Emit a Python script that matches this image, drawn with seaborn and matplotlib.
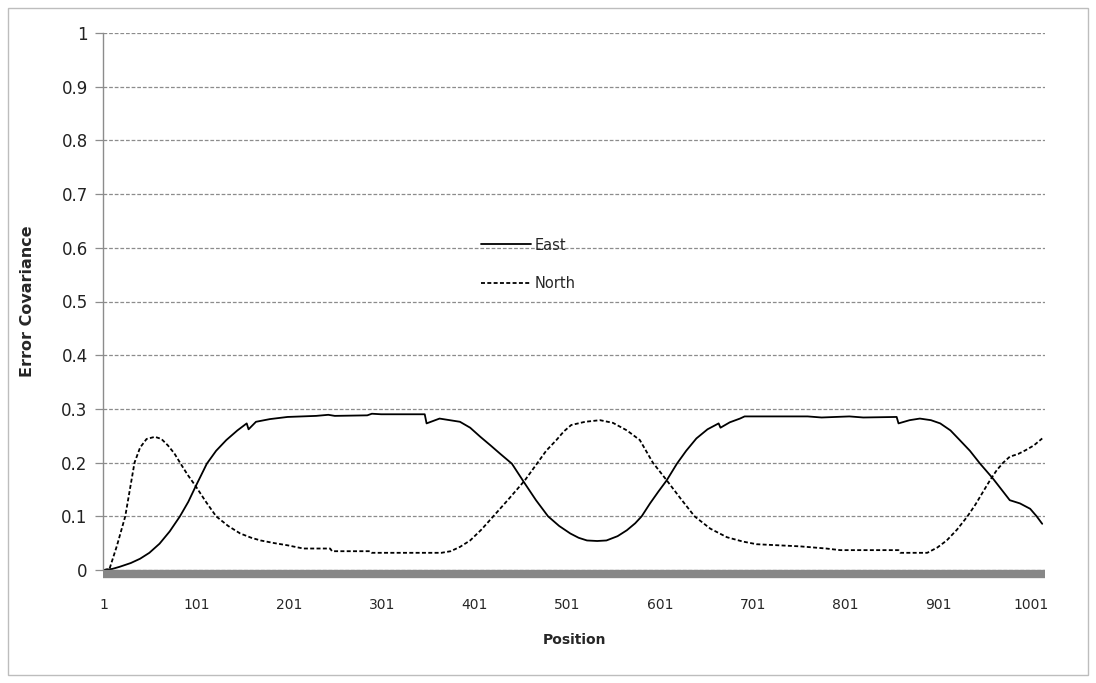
import numpy as np
import pandas as pd
import matplotlib
matplotlib.use("Agg")
import matplotlib.pyplot as plt
import seaborn as sns
from matplotlib.patches import Rectangle

# === Data ===
east_pos = [1, 10, 18, 30, 40, 50, 61, 72, 83, 92, 100, 112, 122, 133, 145, 155, 157, 165,
            180, 199, 230, 243, 250, 285, 290, 300, 347, 349, 363, 385, 396, 407, 418, 428,
            441, 455, 467, 480, 492, 504, 513, 522, 533, 543, 555, 565, 574, 581, 590, 599,
            608, 619, 629, 640, 652, 664, 666, 676, 687, 692, 760, 775, 790, 805, 820, 856,
            858, 870, 881, 893, 903, 914, 924, 935, 946, 953, 960, 969, 978, 989, 1000, 1007,
            1013]
east_val = [0.0, 0.002, 0.006, 0.013, 0.021, 0.032, 0.049, 0.072, 0.1, 0.127, 0.156, 0.198,
            0.222, 0.242, 0.26, 0.273, 0.262, 0.276, 0.281, 0.285, 0.287, 0.289, 0.287, 0.288,
            0.291, 0.29, 0.29, 0.273, 0.282, 0.276, 0.265, 0.248, 0.232, 0.217, 0.198, 0.161,
            0.13, 0.1, 0.082, 0.068, 0.06, 0.055, 0.054, 0.055, 0.063, 0.074, 0.087, 0.1,
            0.124, 0.146, 0.167, 0.198, 0.222, 0.245, 0.262, 0.273, 0.265, 0.275, 0.282, 0.286,
            0.286, 0.284, 0.285, 0.286, 0.284, 0.285, 0.273, 0.279, 0.282, 0.279, 0.273, 0.26,
            0.242, 0.222, 0.198, 0.184, 0.17, 0.15, 0.13, 0.124, 0.114, 0.1, 0.086]

north_pos = [1, 7, 15, 24, 29, 34, 40, 47, 56, 63, 70, 77, 83, 91, 100, 111, 122, 135, 148,
             160, 170, 185, 199, 216, 245, 247, 288, 290, 365, 375, 385, 396, 408, 421, 438,
             455, 468, 478, 489, 497, 505, 520, 536, 550, 565, 579, 593, 608, 623, 638, 655,
             673, 690, 705, 752, 780, 795, 858, 860, 889, 900, 910, 921, 932, 941, 950, 957,
             964, 971, 978, 987, 995, 1004, 1013]
north_val = [0.0, 0.002, 0.045, 0.1, 0.15, 0.2, 0.228, 0.244, 0.248, 0.244, 0.232, 0.217,
             0.2, 0.178, 0.156, 0.127, 0.1, 0.082, 0.068, 0.06, 0.055, 0.05, 0.046, 0.04,
             0.04, 0.035, 0.035, 0.032, 0.032, 0.035, 0.043, 0.055, 0.075, 0.1, 0.133, 0.167,
             0.198, 0.222, 0.242, 0.258, 0.27, 0.276, 0.279, 0.274, 0.26, 0.242, 0.2, 0.167,
             0.133, 0.1, 0.077, 0.061, 0.053, 0.048, 0.044, 0.04, 0.037, 0.037, 0.032, 0.032,
             0.042, 0.055, 0.075, 0.099, 0.122, 0.148, 0.168, 0.186, 0.2, 0.211, 0.216, 0.223,
             0.232, 0.245]

x_ticks = [1, 101, 201, 301, 401, 501, 601, 701, 801, 901, 1001]
y_ticks = [0, 0.1, 0.2, 0.3, 0.4, 0.5, 0.6, 0.7, 0.8, 0.9, 1]
y_tick_labels = ['0', '0.1', '0.2', '0.3', '0.4', '0.5', '0.6', '0.7', '0.8', '0.9', '1']

east_df = pd.DataFrame({'Position': east_pos, 'Value': east_val})
north_df = pd.DataFrame({'Position': north_pos, 'Value': north_val})

# === Style ===
sns.set_style('white')
plt.rcParams['font.family'] = ['DejaVu Sans']

fig = plt.figure(figsize=(10.96, 6.83), dpi=100)
ax = fig.add_axes([103 / 1096, 1 - 570 / 683, 942 / 1096, 537 / 683])

# outer chart border
fig.patches.append(Rectangle((8 / 1096, 8 / 683), 1080 / 1096, 667 / 683,
                             transform=fig.transFigure, fill=False,
                             edgecolor='#bdbdbd', linewidth=1.0))

# === Plot lines ===
sns.lineplot(data=east_df, x='Position', y='Value', ax=ax, color='black',
             linewidth=1.3, label='East')
sns.lineplot(data=north_df, x='Position', y='Value', ax=ax, color='black',
             linewidth=1.3, linestyle=(0, (2.2, 1.3)), label='North')

# === Axes formatting ===
ax.set_xlim(0, 1016)
ax.set_ylim(0, 1)
ax.set_xticks(x_ticks)
ax.set_xticklabels([str(t) for t in x_ticks], fontsize=10, color='#222222')
ax.set_yticks(y_ticks)
ax.set_yticklabels(y_tick_labels, fontsize=12, color='#222222')

ax.yaxis.grid(True, color='#8c8c8c', linestyle=(0, (3, 1.5)), linewidth=0.9)
ax.xaxis.grid(False)

for s in ['top', 'right']:
    ax.spines[s].set_visible(False)
ax.spines['left'].set_color('#8c8c8c')
ax.spines['left'].set_linewidth(1.0)
ax.spines['bottom'].set_position(('outward', 3))
ax.spines['bottom'].set_color('#878787')
ax.spines['bottom'].set_linewidth(6)
ax.spines['bottom'].set_capstyle('butt')

ax.tick_params(axis='y', which='both', left=True, length=6, width=0.9,
               color='#8c8c8c', pad=5)
ax.tick_params(axis='x', which='both', bottom=False, pad=14)

ax.set_xlabel('Position', fontsize=10, fontweight='bold', labelpad=15)
ax.set_ylabel('Error Covariance', fontsize=11.5, fontweight='bold', labelpad=19)

leg = ax.legend(loc='upper left', bbox_to_anchor=(0.395, 0.63), frameon=False,
                fontsize=10.5, handlelength=3.4, handletextpad=0.3,
                labelspacing=1.6, borderaxespad=0)

fig.savefig('out.png', dpi=100)
plt.close(fig)
